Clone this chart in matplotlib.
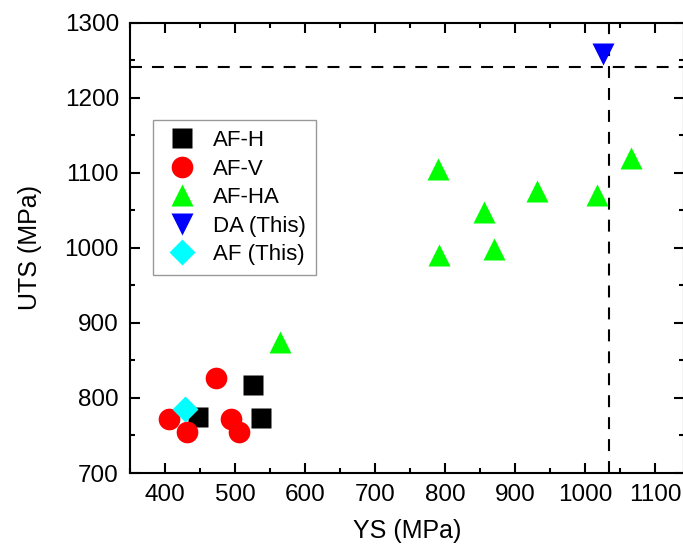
import matplotlib
matplotlib.use("Agg")
import matplotlib.pyplot as plt
from matplotlib.ticker import MultipleLocator

plt.rcParams['font.family'] = ['Liberation Sans', 'DejaVu Sans']
plt.rcParams['lines.scale_dashes'] = False

# Data (YS, UTS) in MPa
afh_ys = [525, 537, 447]
afh_uts = [817, 773, 775]
afv_ys = [473, 405, 431, 494, 506]
afv_uts = [826, 772, 754, 772, 754]
afha_ys = [564, 790, 856, 791, 870, 932, 1017, 1065]
afha_uts = [874, 1105, 1047, 991, 998, 1076, 1070, 1119]
da_ys = [1026]
da_uts = [1258]
af_ys = [429]
af_uts = [785]
ref_ys = 1034
ref_uts = 1241

fig = plt.figure(figsize=(6.83, 5.47), dpi=100)
ax = fig.add_axes([130 / 683, (547 - 473) / 547, (684 - 130) / 683, (473 - 22.5) / 547])

ax.plot(afh_ys, afh_uts, ls='none', marker='s', ms=14.4, color='black', mec='none', label='AF-H')
ax.plot(afv_ys, afv_uts, ls='none', marker='o', ms=15.6, color='#ff0000', mec='none', label='AF-V')
ax.plot(afha_ys, afha_uts, ls='none', marker='^', ms=16.5, color='#00ff00', mec='none', label='AF-HA')
ax.plot(da_ys, da_uts, ls='none', marker='v', ms=16.5, color='#0000ff', mec='none', label='DA (This)')
ax.plot(af_ys, af_uts, ls='none', marker='D', ms=13.6, color='#00ffff', mec='none', label='AF (This)')

ax.axhline(ref_uts, color='black', lw=1.5, ls=(0, (8.6, 7.2)), zorder=1)
ax.axvline(ref_ys, color='black', lw=1.5, ls=(0, (8.6, 7.2)), zorder=1)

xmin = 350
xmax = 350 + (684 - 130) / 0.7
ax.set_xlim(xmin, xmax)
ax.set_ylim(700, 1300)
ax.xaxis.set_major_locator(MultipleLocator(100))
ax.xaxis.set_minor_locator(MultipleLocator(50))
ax.yaxis.set_major_locator(MultipleLocator(100))
ax.yaxis.set_minor_locator(MultipleLocator(50))
ax.tick_params(which='both', direction='in', top=True, right=True, width=1.5, labelsize=17.5, pad=8)
ax.tick_params(which='major', length=7)
ax.tick_params(which='minor', length=3.6)
for s in ax.spines.values():
    s.set_linewidth(1.5)

ax.set_xlabel('YS (MPa)', fontsize=18, labelpad=9)
ax.set_ylabel('UTS (MPa)', fontsize=18, labelpad=16)

leg = ax.legend(loc='upper left', bbox_to_anchor=((153 - 130) / 554, (473 - 120) / 450.5),
                fontsize=16, frameon=True, fancybox=False, edgecolor='#808080',
                handlelength=1.7, handletextpad=0.55, labelspacing=0.34, borderpad=0.45,
                borderaxespad=0, markerscale=1.0)
leg.get_frame().set_linewidth(1.0)

fig.savefig('out.png', dpi=100)
